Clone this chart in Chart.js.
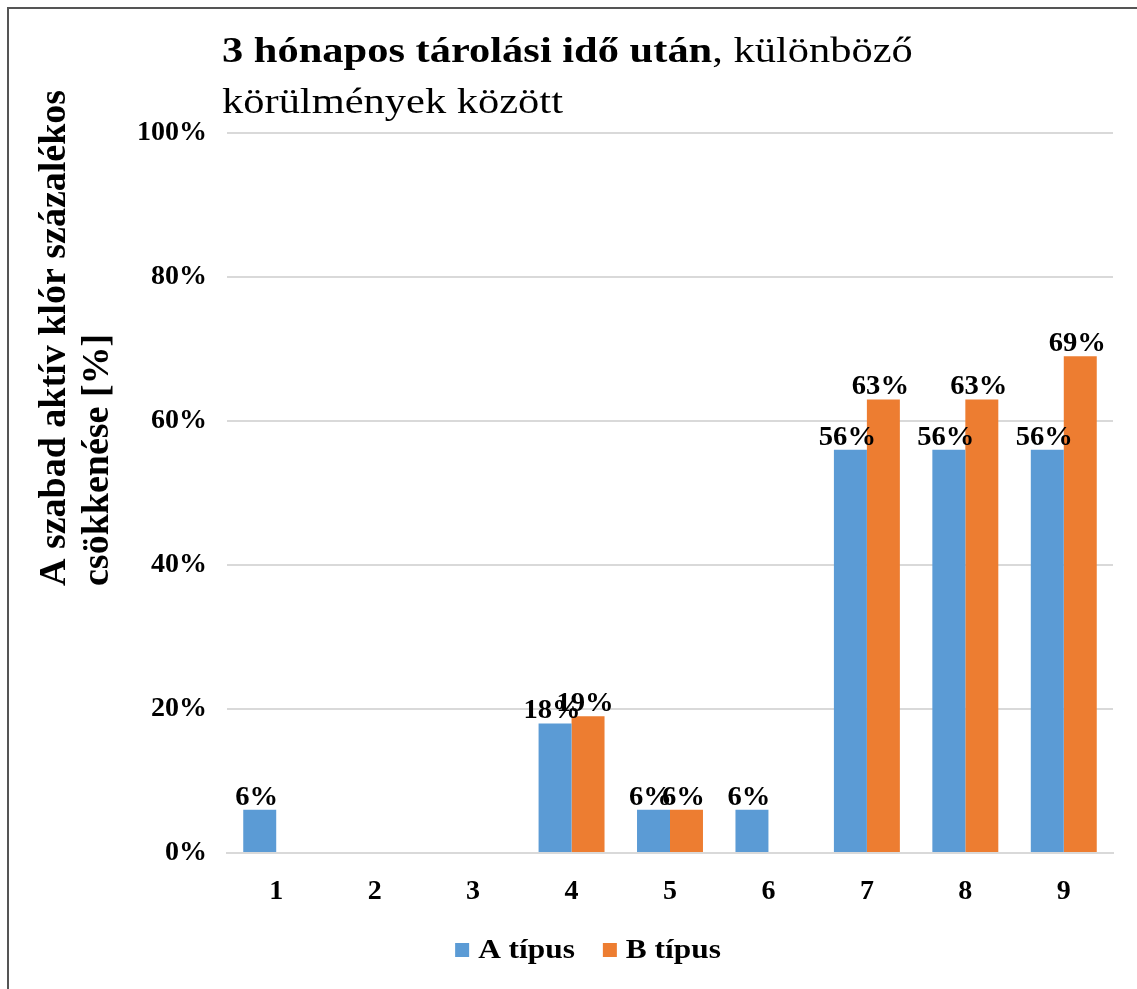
<!DOCTYPE html>
<html>
<head>
<meta charset="utf-8">
<script src="https://cdn.jsdelivr.net/npm/chart.js@4.4.1/dist/chart.umd.min.js"></script>
<style>
  html, body { margin: 0; padding: 0; background: #fff; }
  #wrap { width: 1137px; height: 989px; position: relative; }
</style>
</head>
<body>
<div id="wrap"><canvas id="myChart"></canvas></div>
<script>
const categories = ['1', '2', '3', '4', '5', '6', '7', '8', '9'];
const seriesNames = ['A típus', 'B típus'];
const typeA = [6, 0, 0, 18, 6, 6, 56, 56, 56];
const typeB = [0, 0, 0, 19, 6, 0, 63, 63, 69];
const yTicks = [0, 20, 40, 60, 80, 100];

const SERIF = '"Liberation Serif", "Times New Roman", serif';
const BLUE = '#5B9BD5';
const ORANGE = '#ED7D31';

// text drawn a little wider, like the source picture
function wideText(ctx, text, x, y, sx) {
  ctx.save();
  ctx.translate(x, y);
  ctx.scale(sx, 1);
  ctx.fillText(text, 0, 0);
  ctx.restore();
  return ctx.measureText(text).width * sx;
}

// title, axis title, value labels, legend and frame are drawn by hand
const extras = {
  id: 'extras',
  afterDatasetsDraw(chart) {
    const ctx = chart.ctx;
    ctx.save();
    ctx.font = 'bold 27px ' + SERIF;
    ctx.fillStyle = '#000';
    ctx.textAlign = 'center';
    ctx.textBaseline = 'alphabetic';
    chart.data.datasets.forEach((ds, i) => {
      const meta = chart.getDatasetMeta(i);
      meta.data.forEach((bar, j) => {
        const v = ds.data[j];
        if (!v) return;
        wideText(ctx, v + '%', bar.x - 3, bar.y - 5, 1.06);
      });
    });
    ctx.restore();
  },
  afterDraw(chart) {
    const ctx = chart.ctx;
    ctx.save();

    // title
    ctx.fillStyle = '#000';
    ctx.textAlign = 'left';
    ctx.textBaseline = 'alphabetic';
    ctx.font = 'bold 36px ' + SERIF;
    const w = wideText(ctx, '3 hónapos tárolási idő után', 222, 62, 1.18);
    ctx.font = '36px ' + SERIF;
    wideText(ctx, ', különböző', 222 + w, 62, 1.18);
    wideText(ctx, 'körülmények között', 222, 113, 1.18);

    // y axis title, two lines, both starting at the bottom
    ctx.font = 'bold 38px ' + SERIF;
    ctx.textAlign = 'left';
    ctx.save();
    ctx.translate(65, 586);
    ctx.rotate(-Math.PI / 2);
    ctx.fillText('A szabad aktív klór százalékos', 0, 0);
    ctx.restore();
    ctx.save();
    ctx.translate(108, 586);
    ctx.rotate(-Math.PI / 2);
    ctx.fillText('csökkenése [%]', 0, 0);
    ctx.restore();

    // legend
    ctx.font = 'bold 28px ' + SERIF;
    ctx.textAlign = 'left';
    ctx.textBaseline = 'middle';
    const box = 14, gapBox = 9, gapItem = 28, sx = 1.12;
    const colors = chart.data.datasets.map(d => d.backgroundColor);
    let total = 0;
    seriesNames.forEach((n, i) => {
      total += box + gapBox + ctx.measureText(n).width * sx + (i < seriesNames.length - 1 ? gapItem : 0);
    });
    let x = 588 - total / 2;
    const ly = 950;
    seriesNames.forEach((n, i) => {
      ctx.fillStyle = colors[i];
      ctx.fillRect(x, ly - box / 2, box, box);
      x += box + gapBox;
      ctx.fillStyle = '#000';
      x += wideText(ctx, n, x, ly + 1, sx) + gapItem;
    });

    // outer frame (left and top edges visible)
    ctx.strokeStyle = '#555';
    ctx.lineWidth = 2;
    ctx.beginPath();
    ctx.moveTo(8, 989);
    ctx.lineTo(8, 8);
    ctx.lineTo(1137, 8);
    ctx.stroke();

    ctx.restore();
  }
};

setTimeout(() => {
  const ctx = document.getElementById('myChart').getContext('2d');
  if (ctx) {
    new Chart(ctx, {
      type: 'bar',
      data: {
        labels: categories,
        datasets: [{
          label: seriesNames[0],
          data: typeA,
          backgroundColor: BLUE,
          categoryPercentage: 0.67,
          barPercentage: 1.0
        }, {
          label: seriesNames[1],
          data: typeB,
          backgroundColor: ORANGE,
          categoryPercentage: 0.67,
          barPercentage: 1.0
        }]
      },
      options: {
        responsive: true,
        maintainAspectRatio: false,
        animation: false,
        layout: { padding: { top: 133, right: 24, bottom: 0, left: 0 } },
        plugins: {
          legend: { display: false },
          tooltip: { enabled: false }
        },
        scales: {
          x: {
            grid: { display: false, drawTicks: false },
            border: { display: true, color: '#d9d9d9', width: 2 },
            ticks: {
              color: '#000',
              font: { family: SERIF, size: 28, weight: 'bold' },
              padding: 22
            },
            afterFit(scale) { scale.height = 989 - 853; }
          },
          y: {
            min: 0,
            max: 100,
            afterBuildTicks(scale) { scale.ticks = yTicks.map(v => ({ value: v })); },
            grid: { color: '#d9d9d9', lineWidth: 2, drawTicks: false },
            border: { display: false },
            ticks: {
              color: '#000',
              font: { family: SERIF, size: 28, weight: 'bold' },
              padding: 20,
              callback: v => v + '%'
            },
            afterFit(scale) { scale.width = 227; }
          }
        }
      },
      plugins: [extras]
    });
  } else {
    console.error('Failed to get canvas context');
  }
}, 0);
</script>
</body>
</html>
